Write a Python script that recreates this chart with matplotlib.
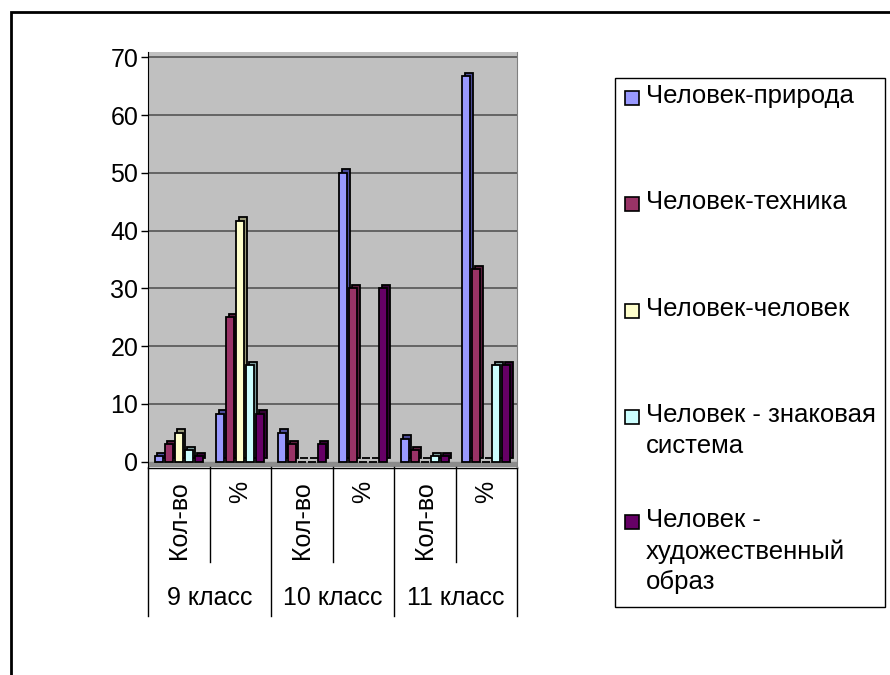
import matplotlib
matplotlib.use('Agg')
import matplotlib.pyplot as plt
from matplotlib.patches import Rectangle
from matplotlib.lines import Line2D
import matplotlib.transforms as mtransforms

plt.rcParams['font.family'] = ['Liberation Sans', 'DejaVu Sans']

# data
sub_labels = ['Кол-во', '%', 'Кол-во', '%', 'Кол-во', '%']
class_labels = ['9 класс', '10 класс', '11 класс']
series = ['Человек-природа', 'Человек-техника', 'Человек-человек',
          'Человек - знаковая\nсистема', 'Человек -\nхудожественный\nобраз']
nature = [1, 8.3, 5, 50, 4, 66.7]
tech = [3, 25, 3, 30, 2, 33.3]
human = [5, 41.7, 0, 0, 0, 0]
signs = [2, 16.7, 0, 0, 1, 16.7]
art = [1, 8.3, 3, 30, 1, 16.7]
values = [nature, tech, human, signs, art]

colors = ['#9999FF', '#993366', '#FFFFCC', '#CCFFFF', '#660066']
sides = ['#4C4C99', '#5A1E3C', '#99997A', '#7A9999', '#330033']

W, H = 890, 675
fig = plt.figure(figsize=(W / 100, H / 100), dpi=100)


def fx(px):
    return px / W


def fy(py):
    return 1 - py / H


ax = fig.add_axes([fx(148), fy(467), fx(517) - fx(148), fy(52) - fy(467)])
ax.set_facecolor('#C0C0C0')

x = list(range(len(sub_labels)))
step = 0.163
w = 0.13
dx = 0.04
dy = 0.6
for k, (vals, c, s) in enumerate(zip(values, colors, sides)):
    pos = [xi + (k - 2) * step for xi in x]
    # depth face behind the front face
    ax.bar([p + dx for p in pos], vals, width=w, bottom=dy, color=s,
           edgecolor='black', linewidth=1.3, zorder=2 + k * 2)
    ax.bar(pos, vals, width=w, color=c, edgecolor='black',
           linewidth=1.3, zorder=3 + k * 2)

ax.set_xlim(-0.5, 5.5)
ax.set_ylim(-0.9, 70.9)
ax.axhspan(-0.9, 0, color='#8C8C8C', zorder=1)
ax.set_yticks(range(0, 71, 10))
ax.tick_params(axis='y', labelsize=18, length=5, width=1, direction='out', pad=2)
ax.set_xticks([])
for yv in range(10, 71, 10):
    ax.axhline(yv, color='#555555', linewidth=1.2, zorder=1)
ax.spines['top'].set_visible(False)
ax.spines['bottom'].set_visible(False)
ax.spines['left'].set_color('black')
ax.spines['right'].set_color('#808080')

# category axis labels below the plot
trans = mtransforms.blended_transform_factory(ax.transData, fig.transFigure)
for i, lab in enumerate(sub_labels):
    ax.text(i, fy(481), lab, transform=trans, rotation=90, ha='center',
            va='top', fontsize=18)
for j, lab in enumerate(class_labels):
    ax.text(2 * j + 0.5, fy(598), lab, transform=trans, ha='center',
            va='center', fontsize=18)
for xb in [-0.5, 1.5, 3.5, 5.5]:
    ax.add_line(Line2D([xb, xb], [fy(467), fy(616)], transform=trans,
                       color='black', linewidth=1, clip_on=False))
for xb in [0.5, 2.5, 4.5]:
    ax.add_line(Line2D([xb, xb], [fy(467), fy(562)], transform=trans,
                       color='black', linewidth=1, clip_on=False))
ax.add_line(Line2D([-0.5, 5.5], [fy(468), fy(468)], transform=trans,
                   color='black', linewidth=1, clip_on=False))

# legend box, entries spaced by first line like the original
fig.patches.append(Rectangle((fx(615), fy(607)), fx(885) - fx(615),
                             fy(78) - fy(607), transform=fig.transFigure,
                             facecolor='white', edgecolor='black', linewidth=1))
first_line = [98, 204, 311, 417, 522]
for lab, c, yy in zip(series, colors, first_line):
    fig.patches.append(Rectangle((fx(625), fy(yy + 7)), fx(14), 14 / H,
                                 transform=fig.transFigure, facecolor=c,
                                 edgecolor='black', linewidth=1.2))
    fig.text(fx(646), fy(yy - 14), lab, ha='left', va='top', fontsize=18.5,
             linespacing=1.36)

fig.patches.append(Rectangle((fx(11), -0.1), 1.2, fy(12) + 0.1,
                             transform=fig.transFigure, fill=False,
                             edgecolor='black', linewidth=2))

plt.savefig('out.png', dpi=100)
